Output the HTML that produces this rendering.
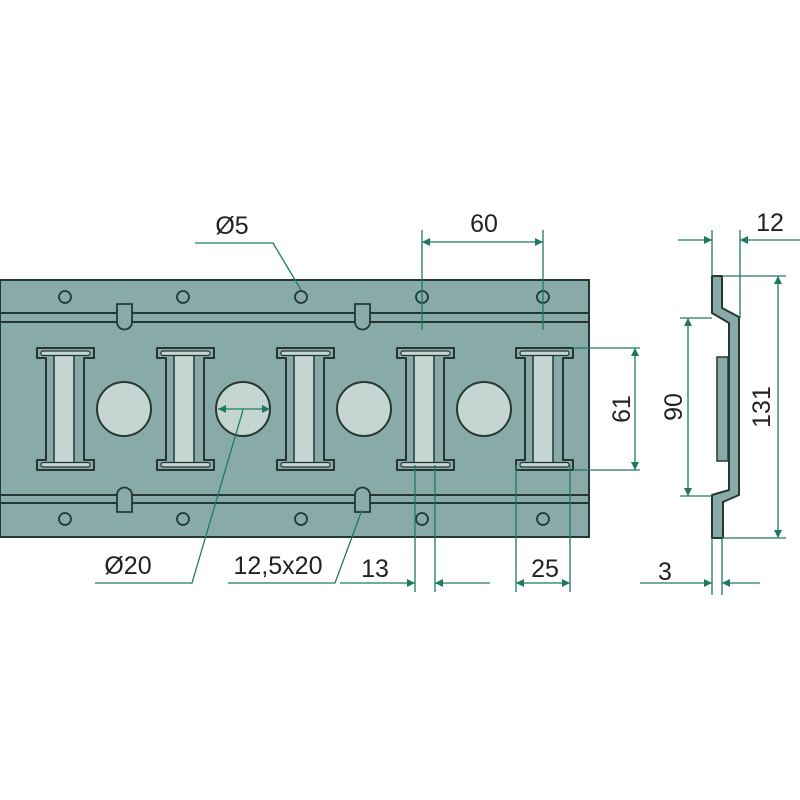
<!DOCTYPE html>
<html><head><style>body{margin:0;background:#fff}svg{display:block}</style></head><body>
<svg width="800" height="800" viewBox="0 0 800 800" xmlns="http://www.w3.org/2000/svg" font-family="Liberation Sans, sans-serif">
<defs>
<marker id="a" viewBox="0 0 10 10" refX="10" refY="5" markerWidth="13" markerHeight="8" orient="auto-start-reverse" markerUnits="userSpaceOnUse"><path d="M0,0 L10,5 L0,10 Z" fill="#1d7a60"/></marker>
<g id="I">
<path d="M0,0 H57 V10 H47 V112 H57 V122 H0 V112 H9 V10 H0 Z" fill="#88abaa" stroke="#263635" stroke-width="2" stroke-linejoin="round"/>
<rect x="17" y="7" width="20" height="108" fill="#c5d5d2" stroke="#263635" stroke-width="1.5"/>
<rect x="4" y="3" width="49" height="4.5" rx="2" fill="#c5d5d2" stroke="#263635" stroke-width="1.2"/>
<rect x="4" y="114.5" width="49" height="4.5" rx="2" fill="#c5d5d2" stroke="#263635" stroke-width="1.2"/>
</g>
</defs>
<rect x="0" y="280" width="589" height="257" fill="#88abaa" stroke="#263635" stroke-width="2"/>
<g stroke="#263635" stroke-width="2">
<line x1="0" y1="313" x2="589" y2="313"/><line x1="0" y1="322" x2="589" y2="322"/>
<line x1="0" y1="495" x2="589" y2="495"/><line x1="0" y1="503" x2="589" y2="503"/>
</g>
<g fill="#88abaa" stroke="#263635" stroke-width="1.8">
<path d="M117,304 H132 V322 A7.5,7.5 0 0 1 117,322 Z"/>
<path d="M355,304 H370 V322 A7.5,7.5 0 0 1 355,322 Z"/>
<path d="M117,512 H132 V495 A7.5,7.5 0 0 0 117,495 Z"/>
<path d="M355,512 H370 V495 A7.5,7.5 0 0 0 355,495 Z"/>
<circle cx="65" cy="297" r="6"/><circle cx="183" cy="297" r="6"/><circle cx="301" cy="297" r="6"/><circle cx="422" cy="297" r="6"/><circle cx="543" cy="297" r="6"/>
<circle cx="65" cy="519" r="6"/><circle cx="183" cy="519" r="6"/><circle cx="301" cy="519" r="6"/><circle cx="422" cy="519" r="6"/><circle cx="543" cy="519" r="6"/>
</g>
<g fill="#c5d5d2" stroke="#263635" stroke-width="2">
<circle cx="124" cy="409" r="27"/><circle cx="243" cy="409" r="27"/><circle cx="364" cy="409" r="27"/><circle cx="484" cy="409" r="27"/>
</g>
<use href="#I" x="37" y="348"/><use href="#I" x="157" y="348"/><use href="#I" x="277" y="348"/><use href="#I" x="397" y="348"/><use href="#I" x="516" y="348"/>
<path d="M712,276 H722 V308 L739,317 V495 L723,502 V538 H712 V495 L729,490 V323 L712,313 Z" fill="#88abaa" stroke="#263635" stroke-width="2" stroke-linejoin="round"/>
<rect x="717" y="357" width="11" height="104" fill="#88abaa" stroke="#263635" stroke-width="1.5"/>
<g stroke="#1d7a60" stroke-width="1.3" fill="none">
<line x1="422" y1="230" x2="422" y2="330"/><line x1="543" y1="230" x2="543" y2="330"/>
<line x1="422" y1="242" x2="543" y2="242" marker-start="url(#a)" marker-end="url(#a)"/>
<line x1="573" y1="348" x2="640" y2="348"/><line x1="573" y1="470" x2="640" y2="470"/>
<line x1="635" y1="348" x2="635" y2="470" marker-start="url(#a)" marker-end="url(#a)"/>
<line x1="415" y1="465" x2="415" y2="592"/><line x1="435" y1="465" x2="435" y2="592"/>
<line x1="340" y1="583" x2="415" y2="583" marker-end="url(#a)"/><line x1="490" y1="583" x2="435" y2="583" marker-end="url(#a)"/>
<line x1="516" y1="465" x2="516" y2="592"/><line x1="570" y1="465" x2="570" y2="592"/>
<line x1="516" y1="583" x2="570" y2="583" marker-start="url(#a)" marker-end="url(#a)"/>
<polyline points="301,290 273,243 195,243"/>
<line x1="218" y1="409" x2="270" y2="409" marker-start="url(#a)" marker-end="url(#a)"/>
<polyline points="243,410 192,583 95,583"/>
<polyline points="362,510 335,583 228,583"/>
<line x1="712" y1="230" x2="712" y2="276"/><line x1="740" y1="230" x2="740" y2="318"/>
<line x1="678" y1="240" x2="712" y2="240" marker-end="url(#a)"/><line x1="800" y1="240" x2="740" y2="240" marker-end="url(#a)"/>
<line x1="722" y1="276" x2="786" y2="276"/><line x1="722" y1="538" x2="786" y2="538"/>
<line x1="778" y1="276" x2="778" y2="538" marker-start="url(#a)" marker-end="url(#a)"/>
<line x1="680" y1="318" x2="712" y2="318"/><line x1="680" y1="496" x2="712" y2="496"/>
<line x1="688" y1="318" x2="688" y2="496" marker-start="url(#a)" marker-end="url(#a)"/>
<line x1="712" y1="538" x2="712" y2="595"/><line x1="722" y1="538" x2="722" y2="595"/>
<line x1="640" y1="583" x2="712" y2="583" marker-end="url(#a)"/><line x1="760" y1="583" x2="722" y2="583" marker-end="url(#a)"/>
</g>
<g fill="#222" font-size="25" text-anchor="middle">
<text x="484" y="232">60</text>
<text x="232" y="234">Ø5</text>
<text x="128" y="574">Ø20</text>
<text x="278" y="574">12,5x20</text>
<text x="375" y="577">13</text>
<text x="545" y="577">25</text>
<text x="770" y="231">12</text>
<text x="665" y="580">3</text>
<text transform="translate(630,409) rotate(-90)">61</text>
<text transform="translate(682,407) rotate(-90)">90</text>
<text transform="translate(770,407) rotate(-90)">131</text>
</g>
</svg>
</body></html>
